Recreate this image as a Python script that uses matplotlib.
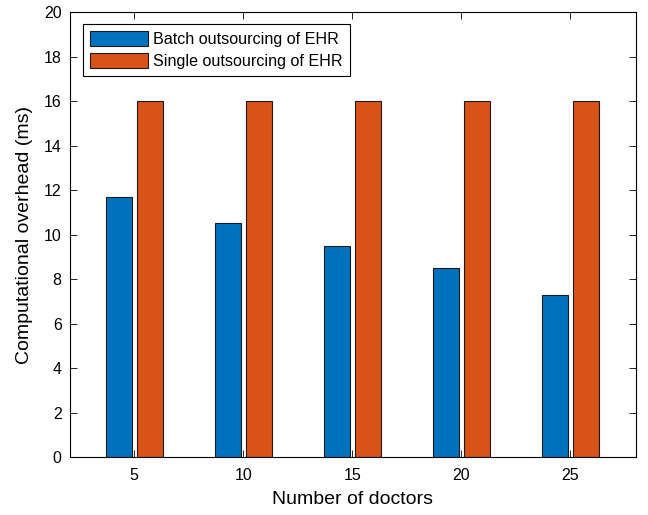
import matplotlib
matplotlib.use("Agg")
import matplotlib.pyplot as plt
import numpy as np

plt.rcParams['font.family'] = ['Liberation Sans', 'DejaVu Sans']

# data
doctors = [5, 10, 15, 20, 25]
batch = [11.7, 10.5, 9.5, 8.5, 7.3]
single = [16, 16, 16, 16, 16]

fig = plt.figure(figsize=(6.48, 5.15), dpi=100)
ax = fig.add_axes([0.108, 0.1126, 0.873, 0.864])

x = np.array(doctors)
w = 1.15
ax.bar(x - 0.7, batch, width=w, color='#0072BD', edgecolor='#1a1a1a', linewidth=0.8,
       label='Batch outsourcing of EHR')
ax.bar(x + 0.72, single, width=w, color='#D95319', edgecolor='#1a1a1a', linewidth=0.8,
       label='Single outsourcing of EHR')

ax.set_xlim(2.05, 28.0)
ax.set_ylim(0, 20)
ax.set_xticks(doctors)
ax.set_yticks(range(0, 21, 2))
ax.tick_params(direction='in', top=True, right=True, labelsize=11.5, length=5, width=0.6)
ax.tick_params(axis='y', pad=6)
ax.tick_params(axis='x', pad=8)
for s in ax.spines.values():
    s.set_linewidth(0.8)

ax.set_xlabel('Number of doctors', fontsize=14, labelpad=6)
ax.set_ylabel('Computational overhead (ms)', fontsize=14, labelpad=8)

leg = ax.legend(loc='upper left', bbox_to_anchor=(0.023, 0.973), fontsize=11.6,
                fancybox=False, edgecolor='black', framealpha=1,
                handlelength=3.6, handleheight=1.0, handletextpad=0.3,
                borderpad=0.45, labelspacing=0.4, borderaxespad=0)
leg.get_frame().set_linewidth(0.8)

fig.savefig('out.png', dpi=100)
